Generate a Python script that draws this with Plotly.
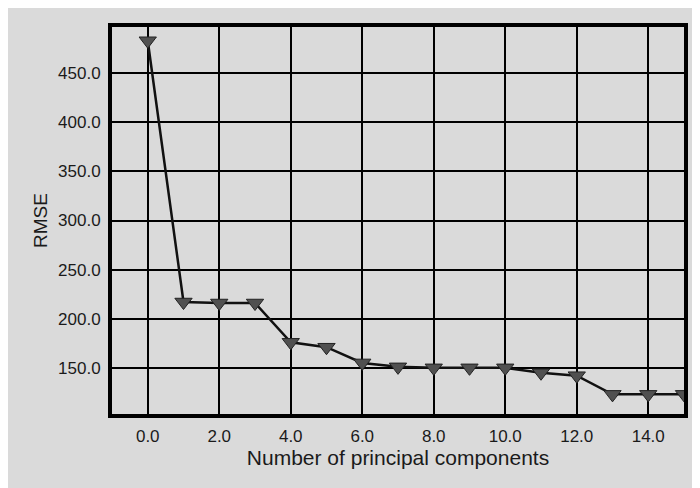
import plotly.graph_objects as go

components = [0, 1, 2, 3, 4, 5, 6, 7, 8, 9, 10, 11, 12, 13, 14, 15]
rmse = [483, 217, 216, 216, 176, 171, 155, 151, 150, 150, 150, 145, 142, 123, 123, 123]
x_ticks = [0, 2, 4, 6, 8, 10, 12, 14]
y_ticks = [150, 200, 250, 300, 350, 400, 450]

bg = "#dadada"
fig = go.Figure()
fig.add_trace(go.Scatter(
    x=components, y=rmse, mode="lines+markers",
    line=dict(color="#111111", width=2.5),
    marker=dict(symbol="triangle-down", size=15, color="#505050",
                line=dict(color="#222222", width=1)),
    cliponaxis=True,
))
fig.update_layout(
    width=692, height=480,
    margin=dict(l=104, r=13, t=19, b=74),
    paper_bgcolor=bg, plot_bgcolor=bg,
    showlegend=False,
    font=dict(family="Liberation Sans, Arial, sans-serif", size=17, color="#1a1a1a"),
)
fig.update_xaxes(
    range=[-1, 15], tickvals=x_ticks, tickformat=".1f",
    showgrid=True, gridcolor="#000000", gridwidth=2,
    showline=True, linecolor="#000000", linewidth=4, mirror=True,
    zeroline=False, ticks="", ticklabelstandoff=4,
    title=dict(text="Number of principal components", font=dict(size=21), standoff=3),
)
fig.update_yaxes(
    range=[103, 497], tickvals=y_ticks, tickformat=".1f",
    showgrid=True, gridcolor="#000000", gridwidth=2,
    showline=True, linecolor="#000000", linewidth=4, mirror=True,
    zeroline=False, ticks="", ticklabelstandoff=4,
    title=dict(text="RMSE", font=dict(size=19), standoff=6),
)
fig.write_html("out.html")
